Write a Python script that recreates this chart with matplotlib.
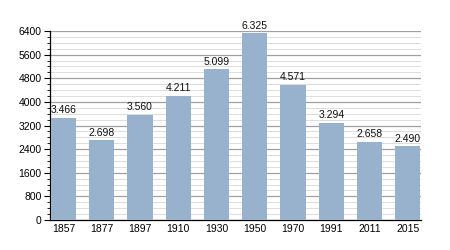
import matplotlib.pyplot as plt
from matplotlib.ticker import MultipleLocator

years = ["1857", "1877", "1897", "1910", "1930", "1950", "1970", "1991", "2011", "2015"]
population = [3466, 2698, 3560, 4211, 5099, 6325, 4571, 3294, 2658, 2490]
labels = ["3.466", "2.698", "3.560", "4.211", "5.099", "6.325", "4.571", "3.294", "2.658", "2.490"]

plt.rcParams['font.family'] = ['Liberation Sans', 'DejaVu Sans']

fig = plt.figure(figsize=(4.5, 2.5), dpi=100)
ax = fig.add_axes([0.111, 0.12, 0.825, 0.756])

x = range(len(years))
ax.bar(x, population, width=0.66, color='#98b2cd', zorder=3)

for i, v in enumerate(population):
    ax.text(i, v + 90, labels[i], ha='center', va='bottom', fontsize=7.5, color='#111111')

ax.set_xlim(-0.35, 9.35)
ax.set_ylim(0, 6400)
ax.yaxis.set_major_locator(MultipleLocator(800))
ax.yaxis.set_minor_locator(MultipleLocator(200))
ax.grid(axis='y', which='major', color='#a0a0a0', linewidth=0.9, zorder=0)
ax.grid(axis='y', which='minor', color='#dcdcdc', linewidth=0.7, zorder=0)

ax.set_xticks(list(x))
ax.set_xticklabels(years)
ax.tick_params(axis='x', length=0, labelsize=7.5, pad=3)
ax.tick_params(axis='y', which='major', length=4, width=0.8, labelsize=7.5, pad=2)
ax.tick_params(axis='y', which='minor', length=2, width=0.6)

for s in ['top', 'right']:
    ax.spines[s].set_visible(False)
ax.spines['left'].set_linewidth(0.9)
ax.spines['bottom'].set_linewidth(0.9)

fig.savefig('out.png', dpi=100)
